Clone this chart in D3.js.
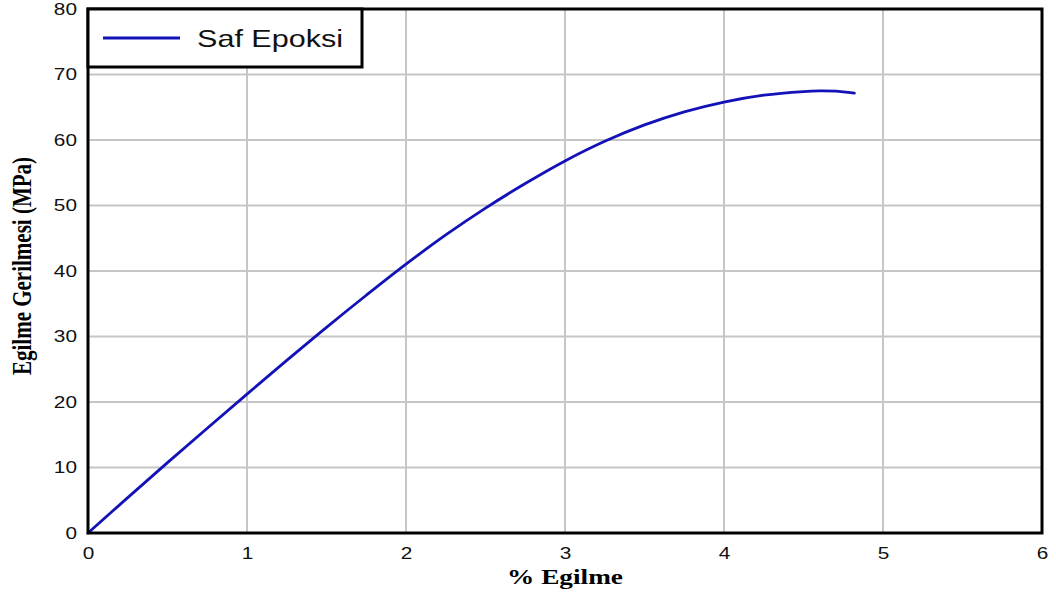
<!DOCTYPE html>
<html>
<head>
<meta charset="utf-8">
<script src="https://cdn.jsdelivr.net/npm/d3@7"></script>
<style>
  html, body { margin: 0; padding: 0; background: #fff; }
  svg { display: block; }
</style>
</head>
<body>
<svg id="chart" width="1056" height="599"></svg>
<script>
// Flexural test: strain (%) vs flexural stress (MPa)
const strain = [0, 0.25, 0.5, 0.75, 1.0, 1.25, 1.5, 1.75, 2.0, 2.25, 2.5, 2.75, 3.0, 3.25, 3.5, 3.75, 4.0, 4.25, 4.5, 4.6, 4.7, 4.82];
const stress = [0, 5.4, 10.75, 16.0, 21.2, 26.35, 31.4, 36.3, 41.05, 45.5, 49.6, 53.35, 56.8, 59.8, 62.3, 64.3, 65.8, 66.85, 67.4, 67.5, 67.45, 67.15];
const seriesName = "Saf Epoksi";
const xTicks = [0, 1, 2, 3, 4, 5, 6];
const yTicks = [0, 10, 20, 30, 40, 50, 60, 70, 80];
const xTitle = "% Egilme";
const yTitle = "Egilme Gerilmesi (MPa)";

// text is drawn slightly widened horizontally
const SX = 1.3;
const LINE_COLOR = "#1212b8";

const svg = d3.select("#chart");
const margin = { left: 88, top: 9, right: 1056 - 1042, bottom: 599 - 533 };
const W = 1056 - margin.left - margin.right;
const H = 599 - margin.top - margin.bottom;

const x = d3.scaleLinear().domain([0, 6]).range([margin.left, margin.left + W]);
const y = d3.scaleLinear().domain([0, 80]).range([margin.top + H, margin.top]);

// grid
const grid = svg.append("g");
grid.selectAll("line.vx").data(xTicks.slice(1, -1)).join("line")
  .attr("x1", d => x(d)).attr("x2", d => x(d))
  .attr("y1", y(0)).attr("y2", y(80))
  .attr("stroke", "#c6c6c6").attr("stroke-width", 2);
grid.selectAll("line.hy").data(yTicks.slice(1, -1)).join("line")
  .attr("x1", x(0)).attr("x2", x(6))
  .attr("y1", d => y(d)).attr("y2", d => y(d))
  .attr("stroke", "#c6c6c6").attr("stroke-width", 2);

// axes (labels only, no tick marks)
const xAxis = d3.axisBottom(x).tickValues(xTicks).tickSize(0).tickPadding(15).tickFormat(d3.format("d"));
const yAxis = d3.axisLeft(y).tickValues(yTicks).tickSize(0).tickPadding(11 / SX).tickFormat(d3.format("d"));
const gx = svg.append("g").attr("transform", `translate(0,${y(0)})`).call(xAxis);
const gy = svg.append("g").attr("transform", `translate(${x(0)},0)`).call(yAxis);
[gx, gy].forEach(g => {
  g.select(".domain").remove();
  g.selectAll("text")
    .attr("font-family", "Liberation Sans, Arial, sans-serif")
    .attr("font-size", 16).attr("fill", "#111")
    .attr("transform", `scale(${SX},1)`);
});

// curve
const pts = strain.map((s, i) => [s, stress[i]]);
svg.append("path")
  .datum(pts)
  .attr("fill", "none")
  .attr("stroke", LINE_COLOR)
  .attr("stroke-width", 2.8)
  .attr("stroke-linecap", "round")
  .attr("d", d3.line().x(d => x(d[0])).y(d => y(d[1])).curve(d3.curveCatmullRom.alpha(0.5)));

// plot frame
svg.append("rect")
  .attr("x", x(0)).attr("y", y(80))
  .attr("width", x(6) - x(0)).attr("height", y(0) - y(80))
  .attr("fill", "none").attr("stroke", "#000").attr("stroke-width", 3);

// legend
const lg = svg.append("g");
lg.append("rect")
  .attr("x", x(0)).attr("y", y(80))
  .attr("width", 274).attr("height", 58)
  .attr("fill", "#fff").attr("stroke", "#000").attr("stroke-width", 3);
lg.append("line")
  .attr("x1", 103).attr("x2", 180)
  .attr("y1", 38).attr("y2", 38)
  .attr("stroke", LINE_COLOR).attr("stroke-width", 2.8);
lg.append("text")
  .attr("transform", `translate(197,47) scale(${SX * 0.98},1)`)
  .attr("font-family", "Liberation Sans, Arial, sans-serif")
  .attr("font-size", 24).attr("fill", "#111")
  .text(seriesName);

// axis titles
svg.append("text")
  .attr("transform", `translate(${x(3)},584) scale(${SX},1)`)
  .attr("text-anchor", "middle")
  .attr("font-family", "Liberation Serif, Times New Roman, serif")
  .attr("font-weight", "bold").attr("font-size", 21)
  .text(xTitle);
svg.append("text")
  .attr("transform", `translate(31,266) scale(${SX},1) rotate(-90)`)
  .attr("text-anchor", "middle")
  .attr("font-family", "Liberation Serif, Times New Roman, serif")
  .attr("font-weight", "bold").attr("font-size", 21)
  .text(yTitle);
</script>
</body>
</html>
